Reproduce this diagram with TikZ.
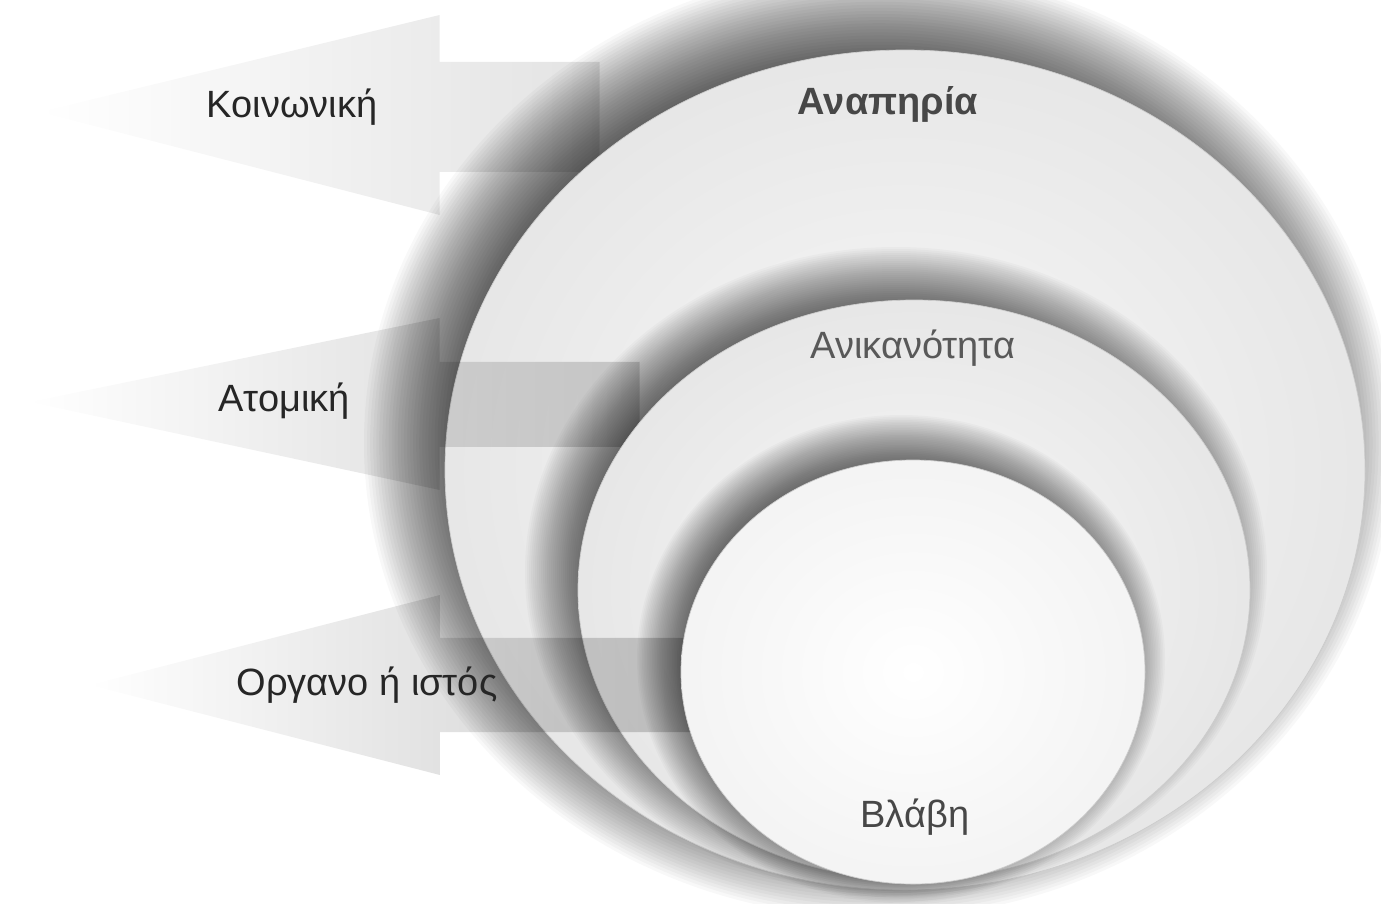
\documentclass[tikz,border=0pt]{standalone}
\usepackage{fontspec}
\setmainfont{Liberation Sans}
\usetikzlibrary{shapes.geometric,fadings}
\tikzfading[name=arrowfade, left color=transparent!100, middle color=transparent!15, right color=transparent!0]
% soft shadow: #1 centre, #2 x radius, #3 y radius, #4 largest extra radius,
% #5 fade range, #6 shift, #7 layer opacity
\newcommand\ringshadow[7]{%
  \foreach \k in {0,...,30}{%
    \fill[black, fill opacity=#7]
      ([shift={#6}]#1) ellipse [x radius={(#2+#4-#5*\k/30)*1pt}, y radius={(#3+#4-#5*\k/30)*1pt}];
  }}
\begin{document}
\begin{tikzpicture}[x=1pt,y=-1pt,
  ring/.style={ellipse, inner sep=0pt, outer sep=0pt, draw=gray!40, line width=0.7pt,
    shading=radial},
  arrowshape/.style={fill=black, fill opacity=#1, path fading=arrowfade},
  lbl/.style={font=\fontsize{38}{42}\selectfont, text=black!85, inner sep=0pt}
]
\fill[white] (0,0) rectangle (1381,903);
\useasboundingbox (0,0) rectangle (1381,903);

\coordinate (cOuter)  at (905,470);
\coordinate (cMiddle) at (914,590);
\coordinate (cInner)  at (913,672);

% arrow 1 (under outer ring)
\fill[arrowshape=0.11] (40,112) -- (440,15) -- (440,62) -- (600,62) -- (600,172)
   -- (440,172) -- (440,215) -- cycle;

% outer ring
\ringshadow{cOuter}{460}{420}{55}{92}{(-26,-27)}{0.027}
\node[ring, inner color=gray!5, outer color=gray!19,
  minimum width=920pt, minimum height=840pt] (outer) at (cOuter) {};

% arrow 2 (over outer, under middle)
\fill[arrowshape=0.17] (30,402) -- (440,318) -- (440,362) -- (640,362) -- (640,447)
   -- (440,447) -- (440,490) -- cycle;

% middle ring
\ringshadow{cMiddle}{336}{290}{35}{60}{(-18,-18)}{0.024}
\node[ring, inner color=gray!5, outer color=gray!19,
  minimum width=672pt, minimum height=580pt] (middle) at (cMiddle) {};

% arrow 3 (over outer and middle, under inner)
\fill[arrowshape=0.21] (90,685) -- (440,595) -- (440,638) -- (740,638) -- (740,732)
   -- (440,732) -- (440,775) -- cycle;

% inner ring
\ringshadow{cInner}{232}{212}{32}{50}{(-12,-13)}{0.024}
\node[ring, inner color=white, outer color=gray!9,
  minimum width=464pt, minimum height=424pt] (inner) at (cInner) {};

% labels
\node[lbl] (tKoin) at (292,107) {Κοινωνική};
\node[lbl] (tAtom) at (284,401) {Ατομική};
\node[lbl] (tOrg)  at (367,685) {Οργανο ή ιστός};
\node[lbl, font=\fontsize{38}{42}\selectfont\bfseries, text=black!72] (tAnap) at (888,104) {Αναπηρία};
\node[lbl, text=black!65] (tAnik) at (913,348) {Ανικανότητα};
\node[lbl, text=black!72] (tBlav) at (915,817) {Βλάβη};
\end{tikzpicture}
\end{document}
